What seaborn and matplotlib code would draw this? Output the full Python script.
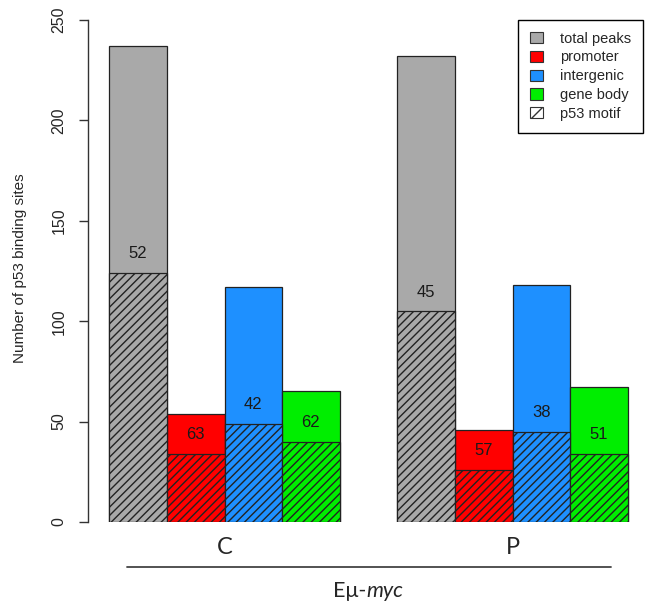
import numpy as np
import pandas as pd
import matplotlib
matplotlib.use("Agg")
import matplotlib.pyplot as plt
from matplotlib.patches import Patch
from matplotlib.lines import Line2D
import seaborn as sns

# p53 binding sites per genomic region, and how many of them carry the p53 motif
groups = ["C", "P"]
regions = ["total peaks", "promoter", "intergenic", "gene body"]
total_C = [237, 54, 117, 65]
motif_C = [124, 34, 49, 40]
total_P = [232, 46, 118, 67]
motif_P = [105, 26, 45, 34]
colors = ["#A9A9A9", "#FF0000", "#1E90FF", "#00EE00"]
legend_labels = regions + ["p53 motif"]
y_ticks = [0, 50, 100, 150, 200, 250]

sns.set_style("white")
plt.rcParams["font.family"] = ["Liberation Sans", "DejaVu Sans"]
plt.rcParams["hatch.linewidth"] = 1.0
plt.rcParams["hatch.color"] = "black"

df = pd.DataFrame({
    "group": np.repeat(groups, len(regions)),
    "region": regions * len(groups),
    "total": total_C + total_P,
    "motif": motif_C + motif_P,
})

W, H = 645, 607
fig = plt.figure(figsize=(W / 100, H / 100), dpi=100)
ax = fig.add_axes([88 / W, 85 / H, (640 - 88) / W, 502 / H])

common = dict(data=df, x="group", hue="region", order=groups, hue_order=regions,
              palette=colors, saturation=1, width=0.8, edgecolor="#222222",
              linewidth=0.9, legend=False, errorbar=None, ax=ax)

sns.barplot(y="total", **common)
n_tot = len(ax.patches)
sns.barplot(y="motif", **common)
tot_bars = ax.patches[:n_tot]
mot_bars = ax.patches[n_tot:]
for b in mot_bars:
    b.set_hatch("////")

# percentage of sites with the motif, written just above the hatched part
for tb, mb in zip(tot_bars, mot_bars):
    pct = int(100 * mb.get_height() / tb.get_height() + 0.5)
    ax.text(mb.get_x() + mb.get_width() / 2, mb.get_height() + 9.5, f"{pct}",
            ha="center", va="center", fontsize=12, color="#1a1a1a")

ax.set_xlim((88 - 224.5) / 288, (640 - 224.5) / 288)
ax.set_ylim(0, 250)
ax.set_yticks(y_ticks)
ax.set_xticks(range(len(groups)))
ax.set_xticklabels(groups, fontsize=17, family=["Lato", "DejaVu Sans"])
ax.tick_params(axis="x", length=0, pad=11)
ax.tick_params(axis="y", left=True, length=6.5, width=1, color="#333333",
               labelsize=11.5, pad=9)
for lab in ax.get_yticklabels():
    lab.set_rotation(90)
    lab.set_va("center")
ax.set_xlabel("")
ax.set_ylabel("")
for s in ["top", "right", "bottom"]:
    ax.spines[s].set_visible(False)
ax.spines["left"].set_bounds(0, 250)
ax.spines["left"].set_color("#333333")
ax.spines["left"].set_linewidth(1)

fig.text(20 / W, 1 - 268 / H, "Number of p53 binding sites", rotation=90,
         ha="center", va="center", fontsize=11)

handles = [Patch(facecolor=c, edgecolor="#333333", linewidth=0.8) for c in colors]
handles.append(Patch(facecolor="white", edgecolor="#333333", linewidth=0.8, hatch="//"))
leg = ax.legend(handles, legend_labels, loc="upper right",
                bbox_to_anchor=(643 / W, 1 - 20 / H), bbox_transform=fig.transFigure,
                frameon=True, fancybox=False, edgecolor="black", framealpha=1,
                fontsize=10.5, handlelength=0.9, handleheight=0.8, handletextpad=1.2,
                borderpad=0.8, labelspacing=0.33, borderaxespad=0)
leg.get_frame().set_linewidth(1.0)

# bracket line under the two groups and the genotype label
fig.add_artist(Line2D([127 / W, 611 / W], [1 - 567 / H, 1 - 567 / H],
                      color="#444444", linewidth=1.3))

fig.canvas.draw()
r = fig.canvas.get_renderer()
t1 = fig.text(0, 1 - 591 / H, "Eμ-", fontsize=15.5, family=["Lato", "DejaVu Sans"],
              ha="left", va="center")
t2 = fig.text(0, 1 - 591 / H, "myc", fontsize=15.5, family=["Lato", "DejaVu Sans"],
              style="italic", ha="left", va="center")
w1 = t1.get_window_extent(r).width
w2 = t2.get_window_extent(r).width
x0 = 368 - (w1 + w2) / 2
t1.set_x(x0 / W)
t2.set_x((x0 + w1) / W)

fig.savefig("out.png", dpi=100)
